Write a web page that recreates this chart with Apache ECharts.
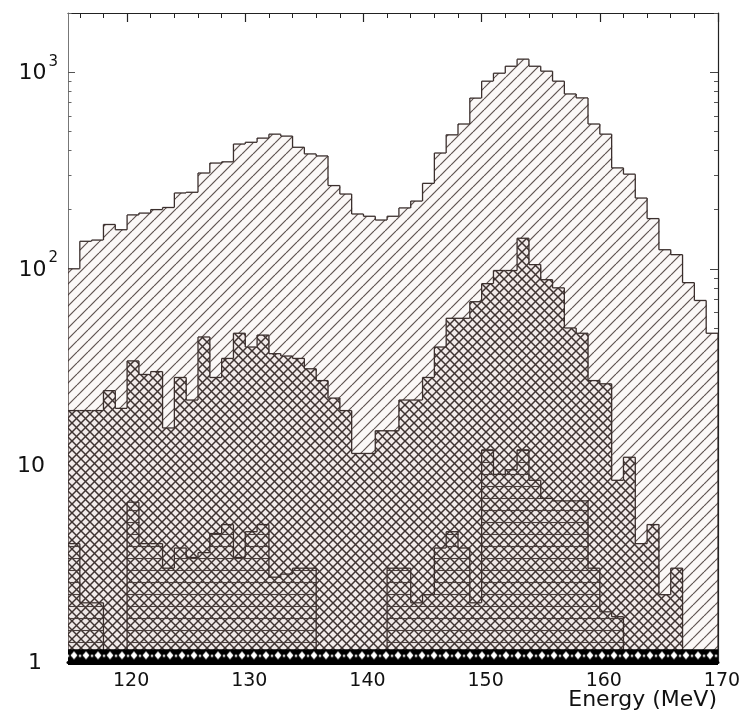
<!DOCTYPE html>
<html><head><meta charset="utf-8">
<script src="https://cdn.jsdelivr.net/npm/echarts@6/dist/echarts.min.js"></script>
<style>html,body{margin:0;padding:0;background:#fff}#c{width:756px;height:721px}</style>
</head><body><div id="c"></div>
<script>
// lower edges of the 1 MeV energy bins
const binStart = [115,116,117,118,119,120,121,122,123,124,125,126,127,128,129,130,131,132,133,134,135,136,137,138,139,140,141,142,143,144,145,146,147,148,149,150,151,152,153,154,155,156,157,158,159,160,161,162,163,164,165,166,167,168,169];
// outer histogram (single diagonal hatch)
const topCounts = [100,138,140,168,158,188,192,200,205,243,245,307,345,350,431,440,462,484,473,415,384,375,265,240,190,185,177,185,204,221,272,388,480,545,738,900,988,1072,1165,1072,1012,900,775,740,545,484,326,303,229,180,125,118,85,69,47];
// middle histogram (cross hatch)
const midCounts = [19,19,19,24,19.5,34,29,30,15.5,28,21.5,45,28,35,47,40,46,37,36,35,31,27,22,19,11.5,11.5,15,15,21.5,21.5,28,40,56,56,68,84,98,98,143,105,88,80,50,47,27,26,8.4,11,4,5,2.2,3,0,0,0];
// inner histogram (cross + horizontal hatch)
const botCounts = [4,2,2,0,0,6.5,4,4,3,3.8,3.4,3.6,4.5,5,3.4,4.6,5,2.7,2.8,3,3,0,0,0,0,0,0,3,3,2,2.2,3.8,4.6,3.8,2,12,9,9.5,12,8.4,6.8,6.6,6.6,6.6,3,1.8,1.7,0,0,0,0,0,0,0,0];

const xTickLabels = [120,130,140,150,160,170];
const xMinorTicks = [116,118,122,124,126,128,132,134,136,138,142,144,146,148,152,154,156,158,162,164,166,168];
const yTickValues = [1,10,100,1000];
const yLabelBase = ['1','10','10','10'];
const yLabelExp = ['','','2','3'];
const yMinorTicks = [2,3,4,5,6,7,8,9,20,30,40,50,60,70,80,90,200,300,400,500,600,700,800,900,2000];
// dark band drawn along the bottom of the frame (count range it covers)
const bandRange = [1, 1.16];

const BIN_W = 1, FLOOR = 1;
const FONT = 'DejaVu Sans';
const LINE = '#3b2f2d';

function makePattern(w, h, bg, draw) {
  const c = document.createElement('canvas');
  c.width = w; c.height = h;
  const g = c.getContext('2d');
  g.fillStyle = bg; g.fillRect(0, 0, w, h);
  draw(g, w, h);
  return {image: c, repeat: 'repeat'};
}
function slash(g, s, yOff) {
  for (let k = -1; k <= 1; k++) {
    g.beginPath(); g.moveTo(k * s, s + yOff); g.lineTo(k * s + s, yOff); g.stroke();
  }
}
function backslash(g, s, yOff) {
  for (let k = -1; k <= 1; k++) {
    g.beginPath(); g.moveTo(k * s, yOff); g.lineTo(k * s + s, s + yOff); g.stroke();
  }
}
const diagPattern = makePattern(11, 11, '#fbf8f7', function (g, w) {
  g.strokeStyle = '#5e5250'; g.lineWidth = 1.2; slash(g, w, 0);
});
const crossPattern = makePattern(9, 9, '#f2ebea', function (g, w) {
  g.strokeStyle = '#3e3331'; g.lineWidth = 1.5; slash(g, w, 0); backslash(g, w, 0);
});
const horizPattern = makePattern(9, 36, '#efe8e7', function (g, w, h) {
  g.strokeStyle = '#3e3331'; g.lineWidth = 1.5;
  for (let y = -9; y <= h; y += 9) { slash(g, w, y); backslash(g, w, y); }
  g.strokeStyle = '#4a3e3c'; g.lineWidth = 1.1;
  for (let y = 6.5; y < h; y += 12) { g.beginPath(); g.moveTo(0, y); g.lineTo(w, y); g.stroke(); }
});
const bandPattern = makePattern(12, 40, '#000', function (g) {
  g.fillStyle = '#fff';
  g.beginPath(); g.moveTo(6, 2); g.lineTo(9.5, 6); g.lineTo(6, 10); g.lineTo(2.5, 6); g.closePath(); g.fill();
  g.fillRect(0, 5.5, 1.2, 2); g.fillRect(10.8, 5.5, 1.2, 2);
});

function histSeries(name, values, pattern, z) {
  return {
    type: 'custom', name: name, z: z, clip: true, silent: true,
    xAxisIndex: 0, yAxisIndex: 0,
    data: binStart.map(function (e, i) { return [e, Math.max(values[i], FLOOR)]; }),
    encode: {x: 0, y: 1},
    renderItem: function (params, api) {
      const i = params.dataIndex;
      const x0 = binStart[i];
      const v = values[i];
      const vv = Math.max(v, FLOOR);
      const prev = i > 0 ? Math.max(values[i - 1], FLOOR) : FLOOR;
      const tl = api.coord([x0, vv]);
      const tr = api.coord([x0 + BIN_W, vv]);
      const base = api.coord([x0, FLOOR]);
      const pp = api.coord([x0, prev]);
      const st = {stroke: LINE, lineWidth: 1.3, fill: null};
      const ch = [];
      if (v > FLOOR) {
        ch.push({type: 'rect', shape: {x: tl[0], y: tl[1], width: tr[0] - tl[0] + 0.5, height: base[1] - tl[1]}, style: {fill: pattern}});
        ch.push({type: 'line', shape: {x1: tl[0], y1: tl[1], x2: tr[0], y2: tr[1]}, style: st});
      }
      ch.push({type: 'line', shape: {x1: pp[0], y1: pp[1], x2: tl[0], y2: tl[1]}, style: st});
      if (i === values.length - 1) {
        const br = api.coord([x0 + BIN_W, FLOOR]);
        ch.push({type: 'line', shape: {x1: tr[0], y1: tr[1], x2: br[0], y2: br[1]}, style: st});
      }
      return {type: 'group', children: ch};
    }
  };
}

const bandSeries = {
  type: 'custom', name: 'band', z: 6, clip: false, silent: true,
  xAxisIndex: 0, yAxisIndex: 0,
  data: [[binStart[0], binStart[binStart.length - 1] + BIN_W]],
  renderItem: function (params, api) {
    const a = api.coord([api.value(0), bandRange[1]]);
    const b = api.coord([api.value(1), bandRange[0]]);
    const fill = Object.assign({}, bandPattern, {x: a[0], y: a[1]});
    return {type: 'rect', shape: {x: a[0], y: a[1], width: b[0] - a[0], height: b[1] - a[1] + 3}, style: {fill: fill}};
  }
};

const chart = echarts.init(document.getElementById('c'), null, {renderer: 'canvas'});
const baseX = {type: 'value', min: 115, max: 170, splitLine: {show: false}};
const baseY = {type: 'log', logBase: 10, min: 1, max: 2000, splitLine: {show: false}};
chart.setOption({
  animation: false,
  backgroundColor: '#ffffff',
  title: {text: 'Energy (MeV)', right: 39, top: 689, padding: 0,
    textStyle: {fontFamily: FONT, fontSize: 22, fontWeight: 'normal', color: '#111'}},
  grid: {left: 68, right: 38, top: 13, bottom: 59, containLabel: false},
  xAxis: [
    Object.assign({}, baseX, {position: 'bottom',
      axisLine: {show: true, lineStyle: {color: '#000', width: 3}},
      axisTick: {show: false},
      axisLabel: {customValues: xTickLabels, margin: 10, padding: [0, 0, 0, 8], fontFamily: FONT, fontSize: 19, color: '#111'}}),
    Object.assign({}, baseX, {position: 'top',
      axisLine: {show: true, onZero: false, lineStyle: {color: '#222', width: 1.2}},
      axisTick: {show: true, inside: true, length: 5, customValues: xMinorTicks, lineStyle: {color: '#222', width: 1}},
      axisLabel: {show: false}}),
    Object.assign({}, baseX, {position: 'top',
      axisLine: {show: false},
      axisTick: {show: true, inside: true, length: 9, customValues: xTickLabels, lineStyle: {color: '#222', width: 1.2}},
      axisLabel: {show: false}})
  ],
  yAxis: [
    Object.assign({}, baseY, {position: 'left',
      axisLine: {show: true, lineStyle: {color: '#777', width: 1}},
      axisTick: {show: true, inside: true, length: 7, customValues: yTickValues, lineStyle: {color: '#555'}},
      axisLabel: {customValues: yTickValues, margin: 10,
        formatter: function (val) {
          const i = yTickValues.indexOf(val);
          if (i < 0) return '';
          if (yLabelExp[i]) return '{b|' + yLabelBase[i] + '}{s|' + yLabelExp[i] + '}';
          return '{b|' + yLabelBase[i] + '}{' + (yLabelBase[i].length === 1 ? 'sp1' : 'sp2') + '|}';
        },
        rich: {
          b: {fontFamily: FONT, fontSize: 22, color: '#111', lineHeight: 24, verticalAlign: 'bottom'},
          s: {fontFamily: FONT, fontSize: 15, color: '#111', lineHeight: 15, verticalAlign: 'bottom', padding: [0, 0, 15, 2]},
          sp1: {width: 16},
          sp2: {width: 13}
        }}}),
    Object.assign({}, baseY, {position: 'left',
      axisLine: {show: false},
      axisTick: {show: true, inside: true, length: 3.5, customValues: yMinorTicks, lineStyle: {color: '#666'}},
      axisLabel: {show: false}}),
    Object.assign({}, baseY, {position: 'right',
      axisLine: {show: true, lineStyle: {color: '#222', width: 1.2}},
      axisTick: {show: true, inside: true, length: 8, customValues: yTickValues, lineStyle: {color: '#444'}},
      axisLabel: {show: false}}),
    Object.assign({}, baseY, {position: 'right',
      axisLine: {show: false},
      axisTick: {show: true, inside: true, length: 4, customValues: yMinorTicks, lineStyle: {color: '#555'}},
      axisLabel: {show: false}})
  ],
  series: [
    histSeries('all', topCounts, diagPattern, 2),
    histSeries('selected', midCounts, crossPattern, 3),
    histSeries('final', botCounts, horizPattern, 4),
    bandSeries
  ]
});
</script>
</body></html>
